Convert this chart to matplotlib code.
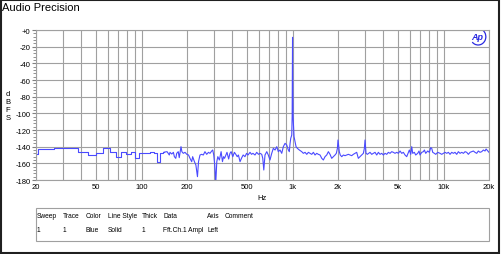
import matplotlib
matplotlib.use('Agg')
import matplotlib.pyplot as plt
from matplotlib.patches import Rectangle, Arc

plt.rcParams['font.family'] = ['Liberation Sans', 'DejaVu Sans']

# low end: fft bins, drawn as steps
bin_hz = [17.6, 23.4, 29.3, 35.2, 41.0, 46.9, 52.7, 58.6, 64.5, 70.3, 76.2, 82.0,
          87.9, 93.8, 99.6, 105.5, 111.3, 117.2, 123.0, 128.9, 134.8, 140.6]
bin_db = [-148.8, -143.2, -141.2, -141.2, -146.0, -150.0, -147.2, -142.0, -146.8, -152.0,
          -146.0, -149.2, -146.0, -153.2, -148.0, -147.2, -148.0, -146.0, -148.0, -158.0,
          -148.0, -146.8]

# rest of the sweep
freq = [140.6, 143, 147.6, 152.7, 154.3, 158.5, 162.5, 165, 168.5, 171, 175, 177.7, 180.5,
        182.5, 185, 189, 194, 199.5, 204.7, 209.4, 214.9, 218, 224, 229, 234.6, 238.4,
        243.8, 250, 256.5, 263, 270, 277.5, 284, 291.5, 296, 300.7, 305.3, 310, 315, 320,
        327.6, 331, 336.5, 343.5, 349, 354.5, 362, 368, 377.5, 385, 392, 402, 412, 421,
        430, 438, 449, 461, 471, 484, 496, 507, 523, 535, 547, 564, 579, 595, 609, 625,
        635, 645, 657, 675, 691, 709, 728, 746, 766, 786, 805, 826, 848, 869, 892, 915,
        938, 952, 963, 973, 988, 994, 997, 1000, 1003, 1008, 1023, 1039, 1055, 1076,
        1109, 1150, 1179, 1210, 1242, 1273, 1306, 1340, 1374, 1409, 1446, 1482, 1521,
        1561, 1600, 1641, 1684, 1727, 1771, 1817, 1863, 1911, 1950, 1982, 2000, 2040,
        2070, 2117, 2172, 2226, 2284, 2342, 2402, 2464, 2527, 2593, 2660, 2727, 2798,
        2871, 2944, 2990, 3020, 3066, 3129, 3196, 3259, 3344, 3430, 3517, 3609, 3703,
        3796, 3896, 3995, 4097, 4204, 4311, 4421, 4537, 4652, 4772, 4897, 5021, 5150,
        5284, 5418, 5558, 5703, 5848, 5938, 6063, 6155, 6250, 6409, 6540, 6742, 6880,
        6986, 7171, 7352, 7465, 7620, 7855, 8055, 8226, 8352, 8480, 8696, 8876, 9149,
        9478, 9726, 9980, 10230, 10500, 10770, 11040, 11330, 11620, 11910, 12220, 12540,
        12860, 13200, 13540, 13880, 14240, 14600, 14980, 15370, 15760, 16160, 16580,
        17000, 17440, 17890, 18350, 18830, 19130, 19640, 20000]
level = [-146.8, -146.4, -146.0, -150.0, -146.8, -148.8, -146.8, -152.0, -154.0, -148.0,
         -146.0, -153.2, -145.2, -140.0, -146.0, -148.0, -146.8, -149.2, -150.0, -154.0,
         -158.0, -152.0, -158.0, -162.0, -176.0, -158.0, -150.0, -149.2, -150.0, -146.0,
         -149.2, -146.8, -148.0, -145.2, -144.0, -150.0, -162.0, -184.0, -158.0, -152.0,
         -156.0, -152.0, -146.0, -158.0, -152.0, -154.0, -150.0, -146.8, -154.8, -148.0,
         -146.0, -152.0, -146.8, -149.2, -152.0, -150.0, -158.0, -153.2, -150.0, -152.0,
         -148.0, -150.0, -146.8, -149.2, -148.0, -150.0, -146.8, -149.2, -148.0, -149.2,
         -154.0, -168.0, -150.0, -146.0, -150.0, -156.0, -148.0, -142.0, -144.0, -140.0,
         -146.0, -144.0, -148.0, -140.0, -136.0, -138.0, -144.0, -146.0, -136.0, -130.0,
         -126.0, -104.0, -38.0, -8.8, -60.0, -104.0, -128.0, -134.0, -140.0, -142.0,
         -144.0, -146.0, -148.0, -146.8, -149.2, -146.8, -148.0, -149.2, -146.8, -150.0,
         -148.0, -149.2, -150.0, -154.0, -156.0, -152.0, -150.0, -146.0, -149.2, -154.0,
         -152.0, -150.0, -148.0, -142.0, -132.0, -146.0, -150.0, -152.0, -150.0, -150.8,
         -150.0, -149.2, -150.0, -150.8, -149.2, -148.0, -146.8, -154.0, -152.0, -150.0,
         -148.0, -142.0, -132.0, -148.0, -149.2, -148.0, -146.8, -149.2, -148.0, -146.8,
         -150.0, -146.8, -149.2, -148.0, -150.0, -148.0, -149.2, -146.8, -148.0, -146.0,
         -146.8, -148.0, -146.8, -148.0, -145.2, -148.0, -146.8, -150.0, -152.0, -146.8,
         -144.0, -149.2, -140.0, -148.0, -146.8, -150.0, -148.0, -145.2, -150.0, -146.8,
         -146.0, -144.0, -148.0, -145.2, -146.8, -141.2, -142.0, -146.8, -148.0, -149.2,
         -146.8, -148.0, -149.2, -148.0, -146.8, -148.0, -146.8, -149.2, -146.8, -148.0,
         -146.8, -149.2, -146.0, -148.0, -146.8, -148.0, -146.0, -146.8, -149.2, -146.8,
         -146.0, -145.2, -146.8, -148.0, -145.2, -146.8, -146.0, -144.0, -145.2, -142.8,
         -145.2, -146.8]

x_labels = ['20', '50', '100', '200', '500', '1k', '2k', '5k', '10k', '20k']
x_major = [20, 50, 100, 200, 500, 1000, 2000, 5000, 10000, 20000]
x_grid = [30, 40, 60, 70, 80, 90, 300, 400, 600, 700, 800, 900,
          3000, 4000, 6000, 7000, 8000, 9000]
y_major = list(range(0, -181, -20))
y_labels = ['+0'] + [str(v) for v in y_major[1:]]

headers = ['Sweep', 'Trace', 'Color', 'Line Style', 'Thick', 'Data', 'Axis', 'Comment']
row1 = ['1', '1', 'Blue', 'Solid', '1', 'Fft.Ch.1 Ampl', 'Left', '']
col_x = [37, 63, 86, 108, 142, 163, 207, 225]

W, H = 501, 255
fig = plt.figure(figsize=(W / 100, H / 100), dpi=100)
ax = fig.add_axes([36 / W, 74 / H, 453 / W, 150 / H])

line_c = '#4a4aff'
ax.plot(bin_hz, bin_db, color=line_c, lw=0.8, drawstyle='steps-mid')
ax.plot(freq, level, color=line_c, lw=0.8)

ax.set_xscale('log')
ax.set_xlim(20, 20000)
ax.set_ylim(-180, 0)
ax.set_xticks(x_major)
ax.set_xticklabels(x_labels)
ax.set_xticks(x_grid, minor=True)
ax.set_xticklabels([], minor=True)
ax.set_yticks(y_major)
ax.set_yticklabels(y_labels)
ax.set_yticks(list(range(0, -181, -4)), minor=True)
ax.grid(True, which='both', axis='x', color='#a0a0a0', lw=0.8)
ax.grid(True, which='major', axis='y', color='#a0a0a0', lw=0.8)
ax.tick_params(axis='both', which='both', labelsize=5.5, length=0, pad=2.5)
ax.tick_params(axis='y', which='both', length=2, color='#808080', pad=1)
ax.tick_params(axis='y', which='major', length=3)
for s in ax.spines.values():
    s.set_color('#a0a0a0')
    s.set_linewidth(0.8)

# title, axis captions
fig.text(2 / W, 1 - 8 / H, 'Audio Precision', fontsize=8, va='center', ha='left')
for i, ch in enumerate('dBFS'):
    fig.text(8 / W, 1 - (94 + 8 * i) / H, ch, fontsize=5.5, ha='center', va='center')
fig.text(262 / W, 1 - 198 / H, 'Hz', fontsize=5.5, ha='center', va='center')

# AP logo
ax.text(0.975, 0.955, 'Ap', transform=ax.transAxes, fontsize=6.5, fontweight='bold',
        style='italic', color='#2a2ae0', ha='center', va='center')
ax.add_patch(Arc((0.976, 0.955), 0.034, 0.11, theta1=-110, theta2=80, transform=ax.transAxes,
                 ec='#2a2ae0', lw=0.9))

# legend table
fig.patches.append(Rectangle((36 / W, 1 - 242 / H), 453 / W, 33 / H, transform=fig.transFigure,
                             fill=False, ec='#a0a0a0', lw=0.8))
for cx, h, r in zip(col_x, headers, row1):
    fig.text(cx / W, 1 - 216.5 / H, h, fontsize=4.8, va='center', ha='left')
    fig.text(cx / W, 1 - 231 / H, r, fontsize=4.8, va='center', ha='left')

# outer frame
fig.patches.append(Rectangle((0.5 / W, 1.5 / H), 498 / W, 252.5 / H, transform=fig.transFigure,
                             fill=False, ec='#202020', lw=1.5))

fig.savefig('out.png', dpi=100)
